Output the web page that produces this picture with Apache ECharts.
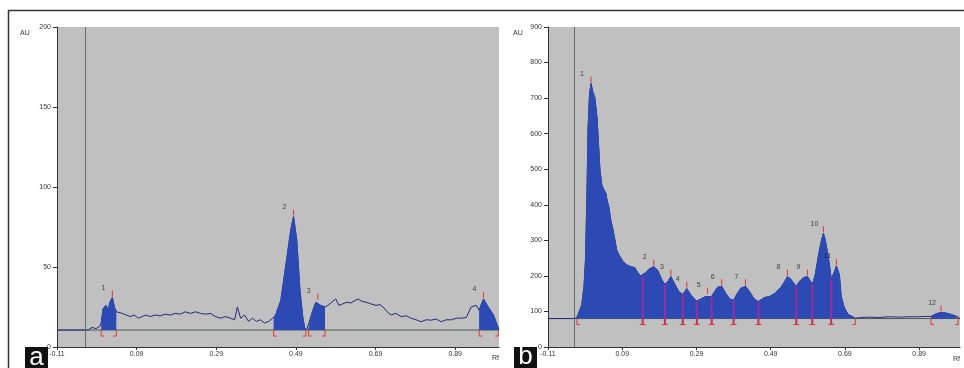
<!DOCTYPE html>
<html><head><meta charset="utf-8">
<script src="https://cdn.jsdelivr.net/npm/echarts@6/dist/echarts.min.js"></script>
<style>html,body{margin:0;padding:0;background:#fff}#c{width:964px;height:368px}</style>
</head><body><div id="c"></div>
<script>
// ---------- shared ----------
const xTickValues = [-0.11, 0.09, 0.29, 0.49, 0.69, 0.89];
const startLineRf = -0.04;

// ---------- panel a ----------
const rfA = [-0.110,-0.032,-0.022,-0.012,-0.002,0.001,0.006,0.013,0.018,0.023,0.029,0.034,0.039,0.044,0.054,0.064,0.074,0.084,0.094,0.104,0.114,0.124,0.137,0.149,0.162,0.175,0.187,0.200,0.212,0.225,0.238,0.250,0.263,0.275,0.288,0.301,0.313,0.326,0.336,0.343,0.351,0.361,0.371,0.381,0.391,0.401,0.411,0.422,0.434,0.439,0.452,0.464,0.477,0.484,0.492,0.500,0.507,0.512,0.515,0.517,0.522,0.530,0.540,0.545,0.552,0.563,0.570,0.580,0.590,0.598,0.608,0.618,0.628,0.638,0.646,0.656,0.666,0.678,0.691,0.701,0.709,0.719,0.729,0.741,0.754,0.767,0.779,0.792,0.804,0.817,0.830,0.842,0.855,0.867,0.880,0.893,0.905,0.918,0.930,0.943,0.950,0.961,0.973,0.986,0.998,1.000];
const auA = [10.6,10.6,12.2,11.5,13,15,24,26,23,28,31,25,22,22,21,20,19,20,18,19,20,19,20,19.5,20.5,20,21,20.5,22,21,22,21,20.5,21,19,18,19,18,17,25,18,20,16,18,16,17,15,16,18.5,20,29,50,73,81.5,67,36,18.8,12,10.8,10.6,11,21,28,29,26,25,26,28,30,26,27,28,27.5,29,30,28.5,28,27,26,26.5,25,22,20,21,19,19.5,18,17,15.8,17,16.8,17.5,15.8,17,17,18,18,18.5,25,26,23,30,25,20,12,10.6];
const baseA = 10.6;
const peakStartA = [0.001, 0.434, 0.522, 0.950];
const peakEndA = [0.039, 0.515, 0.563, 0.998];
const peakTopRfA = [0.029, 0.484, 0.545, 0.961];
const peakTopAuA = [31, 81.5, 29, 30];
const peakNamesA = ['1', '2', '3', '4'];

// ---------- panel b ----------
const rfB = [-0.110,-0.040,-0.032,-0.024,-0.019,-0.013,-0.009,-0.005,-0.002,0.002,0.006,0.011,0.016,0.022,0.026,0.030,0.035,0.041,0.046,0.049,0.054,0.059,0.065,0.070,0.075,0.081,0.086,0.092,0.102,0.113,0.124,0.132,0.140,0.145,0.153,0.164,0.175,0.186,0.196,0.205,0.213,0.221,0.231,0.242,0.253,0.264,0.274,0.285,0.291,0.304,0.315,0.320,0.331,0.339,0.347,0.358,0.368,0.379,0.390,0.398,0.409,0.422,0.433,0.441,0.449,0.457,0.473,0.487,0.503,0.519,0.530,0.535,0.543,0.551,0.559,0.567,0.578,0.589,0.594,0.602,0.610,0.619,0.627,0.632,0.637,0.645,0.651,0.653,0.662,0.667,0.675,0.680,0.688,0.699,0.710,0.718,0.734,0.756,0.782,0.809,0.836,0.863,0.890,0.911,0.922,0.933,0.944,0.949,0.960,0.971,0.981,0.995,1.000];
const auB = [80,80,83,105,119,170,245,433,618,713,741,716,702,646,573,497,455,441,433,413,394,357,330,302,273,259,251,240,231,226,223,209,200,198,209,220,226,215,190,176,184,198,178,156,148,164,148,134,129,136,142,147,142,156,168,171,152,136,131,147,165,171,156,142,132,128,139,142,152,170,188,198,192,181,170,184,195,198,190,176,203,259,301,320,301,254,209,190,212,228,203,142,111,91,86,81,83,84,83,85,84,85,85,86,86,92,96,97,96,93,90,84,80];
const baseB = 80;
const peakStartB = [-0.032, 0.922];
const peakEndB = [0.718, 0.995];
const separatorsB = [0.145, 0.205, 0.253, 0.291, 0.331, 0.390, 0.457, 0.559, 0.602, 0.653];
const peakTopRfB = [0.006, 0.175, 0.221, 0.264, 0.320, 0.358, 0.422, 0.535, 0.589, 0.632, 0.667, 0.949];
const peakTopAuB = [741, 226, 198, 164, 147, 171, 171, 198, 198, 320, 228, 97];
const peakNamesB = ['1','2','3','4','5','6','7','8','9','10','11','12'];

// ---------- styles ----------
const PLOT_BG = '#c0c0c0';
const LINE_COL = '#1f2c7a';
const FILL_COL = '#2d4ab4';
const BASE_COL = '#4e5858';
const RED = '#e0382a';
const MAGENTA = '#9a2c9c';
const FONT = 'Liberation Sans, Arial, sans-serif';

function interp(xs, ys, x) {
  for (let i = 0; i < xs.length - 1; i++) {
    if (x >= xs[i] && x <= xs[i + 1]) {
      const t = (x - xs[i]) / (xs[i + 1] - xs[i] || 1);
      return ys[i] + t * (ys[i + 1] - ys[i]);
    }
  }
  return ys[ys.length - 1];
}
function pairs(xs, ys) { return xs.map((x, i) => [x, ys[i]]); }
function segment(xs, ys, s, e) {
  return xs.map((x, i) => [x, ys[i]]).filter(p => p[0] >= s - 1e-9 && p[0] <= e + 1e-9);
}

function xAxisCfg(gi) {
  return {
    gridIndex: gi, type: 'value', min: -0.11, max: 1.0,
    axisLine: { show: true, onZero: false, lineStyle: { color: '#333', width: 1 } },
    axisTick: { show: true, length: 3, customValues: xTickValues, lineStyle: { color: '#333' } },
    axisLabel: { show: true, customValues: xTickValues, fontSize: 7, color: '#333', margin: 4, fontFamily: FONT,
      formatter: v => v.toFixed(2) },
    splitLine: { show: false }
  };
}
function yAxisCfg(gi, max, interval) {
  return {
    gridIndex: gi, type: 'value', min: 0, max: max, interval: interval,
    axisLine: { show: true, onZero: false, lineStyle: { color: '#333', width: 1 } },
    axisTick: { show: true, length: 4, lineStyle: { color: '#333' } },
    axisLabel: { show: true, fontSize: 7, color: '#333', margin: 6, fontFamily: FONT },
    splitLine: { show: false }
  };
}

function panelSeries(gi, rf, au, base, starts, ends, seps, topRf, topAu, names) {
  const out = [];
  out.push({
    type: 'line', xAxisIndex: gi, yAxisIndex: gi, data: [[-0.11, base], [1.0, base]], z: 2,
    showSymbol: false, silent: true, lineStyle: { color: BASE_COL, width: 1 },
    markLine: { silent: true, symbol: 'none', label: { show: false },
      lineStyle: { color: '#5a7272', width: 1, type: 'solid' }, data: [{ xAxis: startLineRf }] }
  });
  out.push({
    type: 'line', xAxisIndex: gi, yAxisIndex: gi, data: pairs(rf, au), z: 3,
    showSymbol: false, silent: true, lineStyle: { color: LINE_COL, width: 1 }
  });
  starts.forEach((s, k) => {
    out.push({
      type: 'line', xAxisIndex: gi, yAxisIndex: gi, data: segment(rf, au, s, ends[k]), z: 4,
      showSymbol: false, silent: true, lineStyle: { color: FILL_COL, width: 1 },
      areaStyle: { color: FILL_COL, opacity: 1, origin: base }
    });
  });
  if (seps.length) {
    out.push({
      type: 'custom', xAxisIndex: gi, yAxisIndex: gi, silent: true, z: 6,
      data: seps.map(s => [s, base, interp(rf, au, s)]),
      renderItem: (p, api) => {
        const a = api.coord([api.value(0), api.value(2)]);
        const b = api.coord([api.value(0), api.value(1)]);
        return { type: 'line', shape: { x1: a[0], y1: a[1], x2: b[0], y2: b[1] + 6 },
          style: { stroke: MAGENTA, lineWidth: 2 } };
      }
    });
  }
  const br = [];
  starts.forEach(s => br.push([s, base, 0]));
  ends.forEach(e => br.push([e, base, 1]));
  seps.forEach(s => br.push([s, base, 2]));
  out.push({
    type: 'custom', xAxisIndex: gi, yAxisIndex: gi, silent: true, data: br, z: 7,
    renderItem: (p, api) => {
      const c = api.coord([api.value(0), api.value(1)]);
      const kind = api.value(2);
      const h = 6, f = 3;
      const st = { stroke: RED, lineWidth: 1 };
      const ch = [{ type: 'line', shape: { x1: c[0], y1: c[1], x2: c[0], y2: c[1] + h }, style: st }];
      if (kind !== 1) ch.push({ type: 'line', shape: { x1: c[0], y1: c[1] + h, x2: c[0] + f, y2: c[1] + h }, style: st });
      if (kind !== 0) ch.push({ type: 'line', shape: { x1: c[0] - f, y1: c[1] + h, x2: c[0], y2: c[1] + h }, style: st });
      return { type: 'group', children: ch };
    }
  });
  out.push({
    type: 'custom', xAxisIndex: gi, yAxisIndex: gi, silent: true, z: 7,
    data: topRf.map((r, i) => [r, topAu[i]]),
    renderItem: (p, api) => {
      const c = api.coord([api.value(0), api.value(1)]);
      return { type: 'line', shape: { x1: c[0], y1: c[1] - 1, x2: c[0], y2: c[1] - 7 },
        style: { stroke: RED, lineWidth: 1 } };
    }
  });
  out.push({
    type: 'scatter', xAxisIndex: gi, yAxisIndex: gi, silent: true, symbolSize: 2, z: 8,
    itemStyle: { color: 'rgba(0,0,0,0)' },
    data: topRf.map((r, i) => ({ name: names[i], value: [r, topAu[i]] })),
    label: { show: true, position: 'top', distance: 5, offset: [-9, 0], formatter: q => q.name,
      fontSize: 7, color: '#222', fontFamily: FONT }
  });
  return out;
}

const chart = echarts.init(document.getElementById('c'), null, { renderer: 'canvas' });
chart.setOption({
  animation: false,
  backgroundColor: '#fff',
  grid: [
    { left: 57, top: 27, width: 442, height: 320, show: true, backgroundColor: PLOT_BG, borderWidth: 0, containLabel: false },
    { left: 548, top: 27, width: 412, height: 320, show: true, backgroundColor: PLOT_BG, borderWidth: 0, containLabel: false }
  ],
  xAxis: [xAxisCfg(0), xAxisCfg(1)],
  yAxis: [yAxisCfg(0, 200, 50), yAxisCfg(1, 900, 100)],
  series: [
    ...panelSeries(0, rfA, auA, baseA, peakStartA, peakEndA, [], peakTopRfA, peakTopAuA, peakNamesA),
    ...panelSeries(1, rfB, auB, baseB, peakStartB, peakEndB, separatorsB, peakTopRfB, peakTopAuB, peakNamesB)
  ],
  graphic: [
    { type: 'line', shape: { x1: 8, y1: 10.5, x2: 964, y2: 10.5 }, style: { stroke: '#333', lineWidth: 1.5 } },
    { type: 'line', shape: { x1: 8.5, y1: 10, x2: 8.5, y2: 368 }, style: { stroke: '#333', lineWidth: 1.5 } },
    { type: 'text', left: 20, top: 30, style: { text: 'AU', fontSize: 7, fill: '#333', fontFamily: FONT } },
    { type: 'text', left: 513, top: 30, style: { text: 'AU', fontSize: 7, fill: '#333', fontFamily: FONT } },
    { type: 'text', left: 492, top: 355, style: { text: 'Rf', fontSize: 7, fill: '#333', fontFamily: FONT } },
    { type: 'text', left: 953, top: 356, style: { text: 'Rf', fontSize: 7, fill: '#333', fontFamily: FONT } },
    { type: 'rect', shape: { x: 25, y: 347, width: 23, height: 21 }, style: { fill: '#111' } },
    { type: 'text', x: 36.5, y: 358, style: { text: 'a', fontSize: 26, fill: '#fff', fontFamily: FONT, align: 'center', verticalAlign: 'middle' } },
    { type: 'rect', shape: { x: 514, y: 347, width: 23, height: 21 }, style: { fill: '#111' } },
    { type: 'text', x: 525.5, y: 357, style: { text: 'b', fontSize: 26, fill: '#fff', fontFamily: FONT, align: 'center', verticalAlign: 'middle' } }
  ]
});
</script>
</body></html>
